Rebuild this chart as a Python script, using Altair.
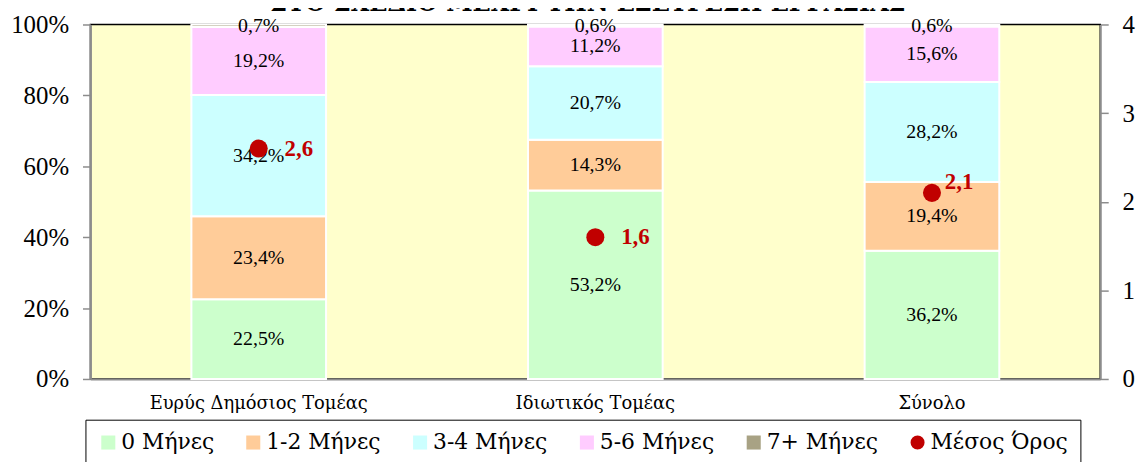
import altair as alt
import pandas as pd

categories = ["Ευρύς Δημόσιος Τομέας", "Ιδιωτικός Τομέας", "Σύνολο"]
series = ["0 Μήνες", "1-2 Μήνες", "3-4 Μήνες", "5-6 Μήνες", "7+ Μήνες"]
m0 = [22.5, 53.2, 36.2]
m12 = [23.4, 14.3, 19.4]
m34 = [34.2, 20.7, 28.2]
m56 = [19.2, 11.2, 15.6]
m7 = [0.7, 0.6, 0.6]
mean_label = "Μέσος Όρος"
mean = [2.6, 1.6, 2.1]
title_text = "ΣΤΟ ΣΧΕΔΙΟ ΜΕΧΡΙ ΤΗΝ ΕΞΕΥΡΕΣΗ ΕΡΓΑΣΙΑΣ"

colors = ["#CCFFCC", "#FFCC99", "#CCFFFF", "#FFCCFF", "#A8A284", "#C00000"]
FONT = "Liberation Serif"
GFONT = "DejaVu Serif"

rows = []
for si, (s, vals) in enumerate(zip(series, [m0, m12, m34, m56, m7])):
    for c, v in zip(categories, vals):
        rows.append({"cat": c, "series": s, "order": si, "value": v})
df = pd.DataFrame(rows)
mdf = pd.DataFrame({"cat": categories, "mean": mean, "series": [mean_label] * 3})
tdf = pd.DataFrame({"t": [title_text]})

domain = series + [mean_label]
color_scale = alt.Scale(domain=domain, range=colors)
shape_scale = alt.Scale(domain=domain, range=["square"] * 5 + ["circle"])

xenc = alt.X("cat:N", sort=categories, title=None,
             scale=alt.Scale(paddingInner=0.6, paddingOuter=0.3),
             axis=alt.Axis(labelFont=GFONT, labelFontSize=18, labelColor="black",
                           labelAngle=0, domainColor="#8c8c8c", domainWidth=2,
                           ticks=False, labelPadding=16, labelLimit=400))

legend = alt.Legend(
    title=None, orient="none", legendX=-5, legendY=398, direction="horizontal",
    labelFont=GFONT, labelFontSize=22, labelColor="black", labelOffset=2,
    columnPadding=28, padding=12, strokeColor="black", fillColor="white",
    symbolType="square", symbolStrokeWidth=0, symbolOpacity=1, symbolSize=200,
    labelLimit=400)

base = alt.Chart(df).transform_stack(
    stack="value", as_=["y0", "y1"], groupby=["cat"], sort=[alt.SortField("order")]
).transform_calculate(
    mid="(datum.y0 + datum.y1) / 2",
    lab="replace(format(datum.value, '.1f'), '.', ',') + '%'"
)

yscale = alt.Scale(domain=[0, 100])
bars = base.mark_bar(stroke="white", strokeWidth=2).encode(
    x=xenc,
    y=alt.Y("y0:Q", scale=yscale, title=None,
            axis=alt.Axis(values=[0, 20, 40, 60, 80, 100], labelExpr="datum.value + '%'",
                          labelFont=FONT, labelFontSize=25, labelColor="black",
                          domainColor="#8c8c8c", domainWidth=2, tickColor="#8c8c8c",
                          tickSize=8, tickWidth=1.5, labelPadding=14, grid=False)),
    y2="y1:Q",
    color=alt.Color("series:N", scale=color_scale, legend=legend),
)
seg_text = base.mark_text(font=FONT, fontSize=20, color="black").encode(
    x=alt.X("cat:N", sort=categories),
    y=alt.Y("mid:Q", scale=yscale, axis=None),
    text="lab:N",
)

mscale = alt.Scale(domain=[0, 4])
mbase = alt.Chart(mdf).transform_calculate(
    lab="replace(format(datum.mean, '.1f'), '.', ',')"
)
points = mbase.mark_point(filled=True, opacity=1, size=330).encode(
    x=alt.X("cat:N", sort=categories),
    y=alt.Y("mean:Q", scale=mscale, title=None,
            axis=alt.Axis(orient="right", values=[0, 1, 2, 3, 4], labelFont=FONT,
                          labelFontSize=25, labelColor="black", domainColor="#8c8c8c",
                          domainWidth=2, tickColor="#8c8c8c", tickSize=8, tickWidth=1.5,
                          labelPadding=14, grid=False)),
    color=alt.Color("series:N", scale=color_scale, legend=legend),
    shape=alt.Shape("series:N", scale=shape_scale, legend=legend),
)
mtext1 = mbase.transform_filter(alt.datum.cat != "Σύνολο").mark_text(
    font=FONT, fontSize=23, fontWeight="bold", color="#C00000", align="left", dx=26
).encode(x=alt.X("cat:N", sort=categories), y=alt.Y("mean:Q", scale=mscale, axis=None), text="lab:N")
mtext2 = mbase.transform_filter(alt.datum.cat == "Σύνολο").mark_text(
    font=FONT, fontSize=23, fontWeight="bold", color="#C00000", align="left", dx=13, dy=-11
).encode(x=alt.X("cat:N", sort=categories), y=alt.Y("mean:Q", scale=mscale, axis=None), text="lab:N")

title = alt.Chart(tdf).mark_text(font=GFONT, fontSize=24, fontWeight="bold", color="black",
                                 baseline="alphabetic").encode(
    x=alt.value(501), y=alt.value(-14), text="t:N")

chart = alt.layer(bars, seg_text, points, mtext1, mtext2, title).resolve_scale(
    y="independent"
).properties(
    width=1017, height=357,
    autosize=alt.AutoSizeParams(type="none"),
    padding={"left": 83, "top": 15, "right": 38, "bottom": 82},
).configure_view(fill="#FFFFCC", stroke="black", strokeWidth=1.5
).configure_legend(labelFont=GFONT, labelFontSize=22, labelColor="black"
).configure_axis(labelFont=FONT)

chart.save("out.html", embed_options={"renderer": "svg", "actions": False})
